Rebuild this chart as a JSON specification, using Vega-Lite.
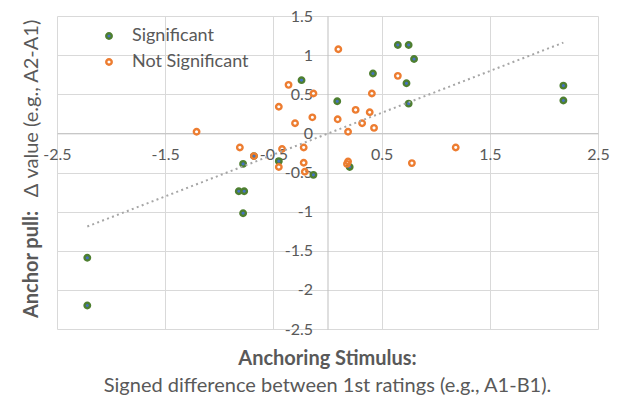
{
  "$schema": "https://vega.github.io/schema/vega-lite/v6.json",
  "width": 541,
  "height": 313,
  "autosize": {"type": "none"},
  "padding": {"left": 57, "top": 16, "right": 23, "bottom": 67},
  "config": {
    "font": "Lato",
    "view": {"stroke": null},
    "legend": {"labelFontSize": 18, "labelColor": "#595959", "symbolSize": 30, "symbolStrokeWidth": 2.4, "rowPadding": 0, "clipHeight": 26, "labelOffset": 14, "symbolType": "circle"}
  },
  "title": {
    "text": "Anchoring Stimulus:",
    "subtitle": "Signed difference between 1st ratings (e.g., A1-B1).",
    "orient": "bottom",
    "anchor": "middle",
    "frame": "group",
    "offset": 12,
    "fontSize": 20,
    "fontWeight": "bold",
    "color": "#595959",
    "subtitleFontSize": 20,
    "subtitleColor": "#595959",
    "subtitlePadding": 7,
    "subtitleFont": "Lato"
  },
  "resolve": {"axis": {"y": "independent"}},
  "layer": [
    {
      "data": {
        "values": [
          {"x": -0.24, "y": 0.68, "group": "Significant"},
          {"x": 0.09, "y": 0.41, "group": "Significant"},
          {"x": -0.78, "y": -0.39, "group": "Significant"},
          {"x": -0.68, "y": -0.29, "group": "Significant"},
          {"x": -0.45, "y": -0.355, "group": "Significant"},
          {"x": -0.13, "y": -0.53, "group": "Significant"},
          {"x": -0.82, "y": -0.74, "group": "Significant"},
          {"x": -0.77, "y": -0.74, "group": "Significant"},
          {"x": -0.78, "y": -1.02, "group": "Significant"},
          {"x": -2.22, "y": -1.59, "group": "Significant"},
          {"x": -2.22, "y": -2.2, "group": "Significant"},
          {"x": 0.65, "y": 1.13, "group": "Significant"},
          {"x": 0.75, "y": 1.13, "group": "Significant"},
          {"x": 0.8, "y": 0.95, "group": "Significant"},
          {"x": 0.42, "y": 0.765, "group": "Significant"},
          {"x": 0.73, "y": 0.64, "group": "Significant"},
          {"x": 0.75, "y": 0.38, "group": "Significant"},
          {"x": 0.205, "y": -0.43, "group": "Significant"},
          {"x": 2.18, "y": 0.61, "group": "Significant"},
          {"x": 2.18, "y": 0.42, "group": "Significant"},
          {"x": -1.21, "y": 0.02, "group": "Not Significant"},
          {"x": -0.81, "y": -0.18, "group": "Not Significant"},
          {"x": -0.68, "y": -0.29, "group": "Not Significant"},
          {"x": -0.42, "y": -0.2, "group": "Not Significant"},
          {"x": -0.45, "y": -0.43, "group": "Not Significant"},
          {"x": -0.45, "y": 0.34, "group": "Not Significant"},
          {"x": -0.36, "y": 0.62, "group": "Not Significant"},
          {"x": -0.3, "y": 0.13, "group": "Not Significant"},
          {"x": -0.14, "y": 0.205, "group": "Not Significant"},
          {"x": -0.13, "y": 0.51, "group": "Not Significant"},
          {"x": -0.22, "y": -0.18, "group": "Not Significant"},
          {"x": -0.22, "y": -0.375, "group": "Not Significant"},
          {"x": -0.21, "y": -0.49, "group": "Not Significant"},
          {"x": 0.1, "y": 1.075, "group": "Not Significant"},
          {"x": 0.094, "y": 0.18, "group": "Not Significant"},
          {"x": 0.19, "y": 0.02, "group": "Not Significant"},
          {"x": 0.26, "y": 0.3, "group": "Not Significant"},
          {"x": 0.32, "y": 0.13, "group": "Not Significant"},
          {"x": 0.39, "y": 0.27, "group": "Not Significant"},
          {"x": 0.41, "y": 0.51, "group": "Not Significant"},
          {"x": 0.43, "y": 0.07, "group": "Not Significant"},
          {"x": 0.65, "y": 0.735, "group": "Not Significant"},
          {"x": 0.19, "y": -0.36, "group": "Not Significant"},
          {"x": 0.18, "y": -0.39, "group": "Not Significant"},
          {"x": 0.78, "y": -0.38, "group": "Not Significant"},
          {"x": 1.185, "y": -0.18, "group": "Not Significant"}
        ]
      },
      "mark": {"type": "point", "shape": "circle", "filled": false, "size": 30, "strokeWidth": 2.4, "opacity": 1},
      "encoding": {
        "x": {
          "field": "x", "type": "quantitative",
          "scale": {"domain": [-2.5, 2.5], "nice": false, "zero": false},
          "axis": {
            "values": [-2.5, -1.5, -0.5, 0.5, 1.5, 2.5],
            "labelExpr": "datum.value + ''",
            "offset": -195.7,
            "title": null,
            "grid": true, "gridColor": "#d9d9d9",
            "domainColor": "#bfbfbf",
            "ticks": false,
            "labelPadding": 13, "labelFontSize": 16, "labelColor": "#595959",
            "labelFlush": false, "labelOverlap": false
          }
        },
        "y": {
          "field": "y", "type": "quantitative",
          "scale": {"domain": [-2.5, 1.5], "nice": false, "zero": false},
          "axis": {
            "values": [-2.5, -2, -1.5, -1, -0.5, 0, 0.5, 1, 1.5],
            "labelExpr": "datum.value + ''",
            "offset": -270.5,
            "grid": true, "gridColor": "#d9d9d9",
            "domainColor": "#bfbfbf",
            "ticks": false,
            "labelPadding": 15, "labelFontSize": 16, "labelColor": "#595959",
            "labelFlush": false, "labelOverlap": false,
            "title": "Δ value (e.g., A2-A1)",
            "titleFontSize": 20, "titleFontWeight": "normal", "titleColor": "#595959",
            "titleX": -290, "titleY": 92, "titleAngle": -90,
            "titleAlign": "center", "titleBaseline": "alphabetic"
          }
        },
        "stroke": {
          "field": "group", "type": "nominal",
          "scale": {"domain": ["Significant", "Not Significant"], "range": ["#4E7F30", "#ED7D31"]},
          "legend": {"orient": "none", "legendX": 43, "legendY": 7, "title": null}
        },
        "fill": {
          "field": "group", "type": "nominal",
          "scale": {"domain": ["Significant", "Not Significant"], "range": ["#4472C4", "transparent"]},
          "legend": {"orient": "none", "legendX": 43, "legendY": 7, "title": null}
        }
      }
    },
    {
      "data": {"values": [{"x": -2.22, "y": -1.19}, {"x": 2.18, "y": 1.16}]},
      "mark": {"type": "line", "color": "#a6a6a6", "strokeWidth": 2, "strokeDash": [2, 3.3]},
      "encoding": {
        "x": {"field": "x", "type": "quantitative"},
        "y": {
          "field": "y", "type": "quantitative",
          "axis": {
            "orient": "left", "title": "Anchor pull:",
            "labels": false, "ticks": false, "domain": false, "grid": false,
            "titleFontWeight": "bold", "titleFontSize": 20, "titleColor": "#595959",
            "titleX": -19.5, "titleY": 248, "titleAngle": -90,
            "titleAlign": "center", "titleBaseline": "alphabetic"
          }
        }
      }
    }
  ]
}
